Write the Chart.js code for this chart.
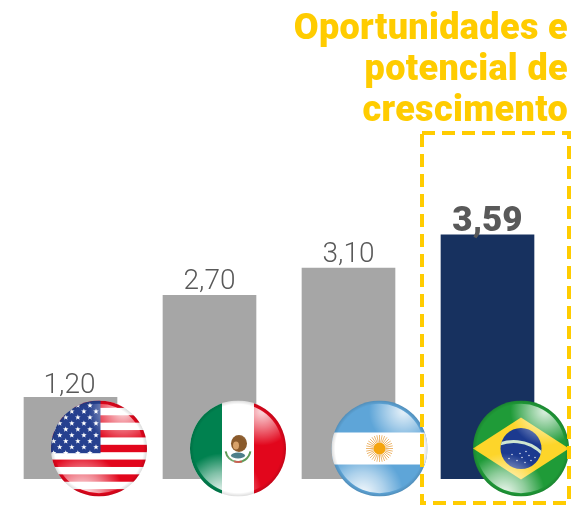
<!DOCTYPE html>
<html><head><meta charset="utf-8">
<style>html,body{margin:0;padding:0;background:#fff}#w{width:574px;height:505px;position:relative}</style>
<script src="https://cdn.jsdelivr.net/npm/chart.js@4"></script></head>
<body><div id="w"><canvas id="c" width="574" height="505"></canvas></div>
<script>
const categories=['EUA','México','Argentina','Brasil'];
const values=[1.20,2.70,3.10,3.59];
const barColors=['#a6a6a6','#a6a6a6','#a6a6a6','#17315f'];
const titleLines=['Oportunidades e','potencial de','crescimento'];
const flagOffsets=[28.5,28.5,31,33.5];
const labelGaps=[4,6,6,4];

function gloss(ctx,r){
  ctx.save();
  ctx.beginPath();ctx.arc(0,0,r*.93,0,Math.PI*2);ctx.clip();
  let g=ctx.createRadialGradient(r*.5,-r*.78,r*.05,r*.5,-r*.78,r*.72);
  g.addColorStop(0,'rgba(255,255,255,.8)');g.addColorStop(.45,'rgba(255,255,255,.45)');g.addColorStop(1,'rgba(255,255,255,0)');
  ctx.fillStyle=g;ctx.fillRect(-r,-r,2*r,2*r);
  g=ctx.createRadialGradient(-r*.35,r*.95,r*.05,-r*.35,r*.95,r*.85);
  g.addColorStop(0,'rgba(255,255,255,.9)');g.addColorStop(.5,'rgba(255,255,255,.5)');g.addColorStop(1,'rgba(255,255,255,0)');
  ctx.fillStyle=g;ctx.fillRect(-r,-r,2*r,2*r);
  ctx.restore();
  ctx.save();
  const e=ctx.createRadialGradient(0,0,r*.92,0,0,r);
  e.addColorStop(0,'rgba(0,0,0,0)');e.addColorStop(1,'rgba(0,0,0,.14)');
  ctx.fillStyle=e;ctx.fillRect(-r,-r,2*r,2*r);
  ctx.restore();
}
function star(ctx,x,y,s){
  ctx.beginPath();
  for(let i=0;i<10;i++){const a=-Math.PI/2+i*Math.PI/5,q=i%2?s*.42:s;ctx.lineTo(x+q*Math.cos(a),y+q*Math.sin(a));}
  ctx.closePath();ctx.fill();
}
const flags={
  'EUA':(ctx,r)=>{
    const h=2*r/13;
    ctx.fillStyle='#fff';ctx.fillRect(-r,-r,2*r,2*r);
    ctx.fillStyle='#e2061c';
    for(let i=0;i<13;i+=2)ctx.fillRect(-r,-r+i*h,2*r,h);
    ctx.fillStyle='#26408f';ctx.fillRect(-r,-r,r+1.5,7*h+1);
    ctx.fillStyle='#fff';
    for(let row=0;row<9;row++){
      const y=-r+5+row*5.95;
      for(let k=-8;k<1;k++){
        if((k+row)%2===0)continue;
        star(ctx,k*6.05-3,y,2.9);
      }
    }
  },
  'México':(ctx,r)=>{
    ctx.fillStyle='#fff';ctx.fillRect(-r,-r,2*r,2*r);
    ctx.fillStyle='#00814f';ctx.fillRect(-r,-r,r-16,2*r);
    ctx.fillStyle='#e2061c';ctx.fillRect(16,-r,r,2*r);
    ctx.strokeStyle='#5f9a58';ctx.lineWidth=2;ctx.beginPath();ctx.arc(0,1,12.5,Math.PI*.05,Math.PI*.95);ctx.stroke();
    ctx.strokeStyle='#c74a3c';ctx.beginPath();ctx.arc(0,1,12.5,Math.PI*.4,Math.PI*.6);ctx.stroke();
    ctx.fillStyle='#8a5a2b';ctx.beginPath();ctx.ellipse(1,-5,8,8.5,0,0,7);ctx.fill();
    ctx.fillStyle='#d8a26a';ctx.beginPath();ctx.ellipse(-2,-3,3,4,0,0,7);ctx.fill();
    ctx.fillStyle='#4e7f8a';ctx.beginPath();ctx.ellipse(0,7,7,3,0,0,7);ctx.fill();
  },
  'Argentina':(ctx,r)=>{
    ctx.fillStyle='#5ea5d8';ctx.fillRect(-r,-r,2*r,2*r);
    ctx.fillStyle='#fff';ctx.fillRect(-r,-16,2*r,32);
    ctx.strokeStyle='#e9a44a';ctx.lineWidth=.8;
    for(let i=0;i<32;i++){const a=i*Math.PI/16;ctx.beginPath();ctx.moveTo(6*Math.cos(a),6*Math.sin(a));ctx.lineTo(13.5*Math.cos(a),13.5*Math.sin(a));ctx.stroke();}
    ctx.fillStyle='#f5a50f';ctx.beginPath();ctx.arc(0,0,6,0,7);ctx.fill();
  },
  'Brasil':(ctx,r)=>{
    ctx.fillStyle='#1f9b38';ctx.fillRect(-r,-r,2*r,2*r);
    ctx.fillStyle='#fdd52a';ctx.beginPath();ctx.moveTo(-r,0);ctx.lineTo(0,-31);ctx.lineTo(r,0);ctx.lineTo(0,31);ctx.closePath();ctx.fill();
    ctx.save();
    ctx.fillStyle='#1c3a8f';ctx.beginPath();ctx.arc(0,0,20.5,0,7);ctx.fill();ctx.clip();
    ctx.strokeStyle='#cfe6d0';ctx.lineWidth=3;ctx.beginPath();ctx.arc(-7,32,39,-Math.PI*.72,-Math.PI*.2);ctx.stroke();
    ctx.fillStyle='#fff';
    [[-9,6],[-4,12],[-1,5],[1,9],[4,14],[8,7],[10,12],[14,9],[-12,10],[5,3]].forEach(p=>{ctx.beginPath();ctx.arc(p[0],p[1],.7,0,7);ctx.fill();});
    ctx.restore();
  }
};
const decor={
  id:'decor',
  afterDatasetsDraw(chart){
    const ctx=chart.ctx,x=chart.scales.x,y=chart.scales.y,base=y.getPixelForValue(0);
    const r=48;
    ctx.save();
    ctx.textAlign='center';ctx.textBaseline='alphabetic';ctx.fillStyle='#595959';
    values.forEach((v,i)=>{
      const last=i===values.length-1;
      ctx.font=(last?'900 35px':'300 28px')+' Roboto';
      ctx.fillText(v.toFixed(2).replace('.',','),x.getPixelForValue(i)-(i===0?1:0),y.getPixelForValue(v)-labelGaps[i]);
    });
    categories.forEach((c,i)=>{
      ctx.save();
      ctx.translate(x.getPixelForValue(i)+flagOffsets[i],base-30.5);
      ctx.beginPath();ctx.arc(0,0,r,0,Math.PI*2);ctx.clip();
      flags[c](ctx,r);gloss(ctx,r);
      ctx.restore();
    });
    ctx.strokeStyle='#ffcc00';ctx.lineWidth=4;ctx.setLineDash([13,7]);
    ctx.strokeRect(422,133,147,370);
    ctx.setLineDash([]);
    ctx.textAlign='right';ctx.fillStyle='#ffcc00';ctx.font='900 36px Roboto';ctx.letterSpacing='0.35px';
    titleLines.forEach((t,i)=>ctx.fillText(t,568,39+i*41));
    ctx.restore();
  }
};
new Chart(document.getElementById('c'),{
  type:'bar',
  data:{labels:categories,datasets:[{data:values,backgroundColor:barColors,borderWidth:0,barThickness:93}]},
  options:{
    responsive:false,animation:false,
    layout:{padding:{left:1,right:17,top:3,bottom:26}},
    plugins:{legend:{display:false},tooltip:{enabled:false},title:{display:false}},
    scales:{
      x:{display:false,offset:true,grid:{display:false}},
      y:{display:false,min:0,max:7,grid:{display:false}}
    }
  },
  plugins:[decor]
});
</script></body></html>
